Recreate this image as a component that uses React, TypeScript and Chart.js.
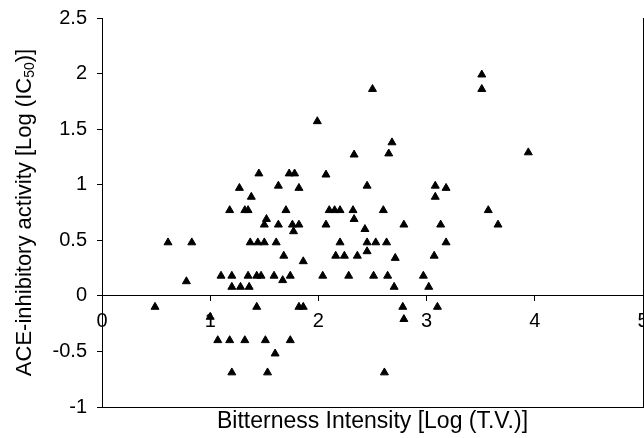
import React, { useEffect, useRef } from "react";
import { Chart, registerables } from "chart.js";

Chart.register(...registerables);

// Bitterness intensity, log(T.V.)
const bitterness = [
  3.51, 3.51, 2.50, 1.99, 2.68, 2.65, 2.33, 3.94,
  1.45, 1.73, 1.78, 2.07, 1.27, 1.63, 1.82, 2.45, 3.08, 3.18, 1.38, 3.08,
  1.18, 1.32, 1.35, 1.70, 2.10, 2.15, 2.20, 2.32, 2.60, 3.57,
  1.52, 2.33, 1.50, 1.63, 1.76, 1.82, 2.07, 2.43, 2.79, 3.13, 3.66, 1.77,
  0.61, 0.83, 1.37, 1.44, 1.50, 1.61, 2.20, 2.45, 2.53, 2.63, 3.18, 2.45,
  1.68, 1.86, 2.16, 2.24, 2.36, 2.71, 3.07,
  0.78, 1.10, 1.20, 1.35, 1.43, 1.47, 1.59, 1.74, 1.67, 2.04, 2.28, 2.51, 2.64, 2.97,
  1.20, 1.28, 1.36, 2.70, 3.02,
  0.49, 1.43, 1.82, 1.86, 2.78, 3.10, 1.00, 2.79,
  1.07, 1.18, 1.32, 1.51, 1.74, 1.60, 1.20, 1.53, 2.61,
];

// ACE-inhibitory activity, log(IC50)
const aceActivity = [
  1.99, 1.86, 1.86, 1.57, 1.38, 1.28, 1.27, 1.29,
  1.10, 1.10, 1.10, 1.09, 0.97, 0.99, 0.97, 0.99, 0.99, 0.97, 0.89, 0.89,
  0.77, 0.77, 0.77, 0.77, 0.77, 0.77, 0.77, 0.77, 0.77, 0.77,
  0.69, 0.69, 0.64, 0.64, 0.64, 0.64, 0.64, 0.60, 0.64, 0.64, 0.64, 0.58,
  0.48, 0.48, 0.48, 0.48, 0.48, 0.48, 0.48, 0.48, 0.48, 0.48, 0.48, 0.40,
  0.36, 0.31, 0.36, 0.36, 0.36, 0.34, 0.36,
  0.13, 0.18, 0.18, 0.18, 0.18, 0.18, 0.18, 0.18, 0.14, 0.18, 0.18, 0.18, 0.18, 0.18,
  0.08, 0.08, 0.08, 0.08, 0.08,
  -0.10, -0.10, -0.10, -0.10, -0.10, -0.10, -0.19, -0.21,
  -0.40, -0.40, -0.40, -0.40, -0.40, -0.52, -0.69, -0.69, -0.69,
];

const xMin = 0;
const xMax = 5;
const xStep = 1;
const yMin = -1;
const yMax = 2.5;
const yStep = 0.5;

const xTitle = "Bitterness Intensity [Log (T.V.)]";
const yTitleParts = ["ACE-inhibitory activity [Log (IC", "50", ")]"];

const FONT = "'Liberation Sans', Arial, Helvetica, sans-serif";
const TICK_SIZE = 20;
const X_TITLE_SIZE = 23;
const Y_TITLE_SIZE = 22;
const SUB_SIZE = 14;

const yTitlePlugin = {
  id: "yTitleWithSub",
  afterDraw(chart: any) {
    const { ctx, chartArea } = chart;
    const main = `${Y_TITLE_SIZE}px ${FONT}`;
    const sub = `${SUB_SIZE}px ${FONT}`;
    ctx.save();
    ctx.font = main;
    const w1 = ctx.measureText(yTitleParts[0]).width;
    const w3 = ctx.measureText(yTitleParts[2]).width;
    ctx.font = sub;
    const w2 = ctx.measureText(yTitleParts[1]).width;
    const total = w1 + w2 + w3;
    const cy = (chartArea.top + chartArea.bottom) / 2;
    ctx.translate(25, cy);
    ctx.rotate(-Math.PI / 2);
    ctx.fillStyle = "#000";
    ctx.textBaseline = "middle";
    ctx.textAlign = "left";
    let x = -total / 2;
    ctx.font = main;
    ctx.fillText(yTitleParts[0], x, 0);
    x += w1;
    ctx.font = sub;
    ctx.fillText(yTitleParts[1], x, 5);
    x += w2;
    ctx.font = main;
    ctx.fillText(yTitleParts[2], x, 0);
    ctx.restore();
  },
};

export default function App() {
  const ref = useRef<HTMLCanvasElement | null>(null);

  useEffect(() => {
    document.body.style.margin = "0";
    const canvas = ref.current;
    if (!canvas) return;
    const points = bitterness.map((b, i) => ({ x: b, y: aceActivity[i] }));
    const tickFont = { family: FONT, size: TICK_SIZE };
    const chart = new Chart(canvas, {
      type: "scatter",
      data: {
        datasets: [
          {
            data: points,
            pointStyle: "triangle",
            pointRadius: 4.6,
            pointBackgroundColor: "#000",
            pointBorderColor: "#000",
            pointBorderWidth: 1,
          },
        ],
      },
      options: {
        animation: false,
        responsive: false,
        devicePixelRatio: 1,
        layout: { autoPadding: false, padding: { top: 18, right: 1, left: 0, bottom: 0 } },
        plugins: {
          legend: { display: false },
          tooltip: { enabled: false },
        },
        scales: {
          x: {
            type: "linear",
            position: { y: 0 },
            min: xMin,
            max: xMax,
            ticks: {
              stepSize: xStep,
              color: "#000",
              font: tickFont,
              padding: 9,
              maxRotation: 0,
              callback: (v: any) => String(Number(v)),
            },
            grid: { display: true, drawOnChartArea: false, drawTicks: true, tickLength: 5, color: "#000" },
            border: { display: true, color: "#000", width: 1 },
            afterFit(s: any) {
              s.paddingLeft = 0;
              s.paddingRight = 0;
            },
          },
          xb: {
            type: "linear",
            position: "bottom",
            min: xMin,
            max: xMax,
            ticks: { display: false },
            grid: { display: false, drawTicks: false },
            border: { display: true, color: "#000", width: 1 },
            title: {
              display: true,
              text: xTitle,
              color: "#000",
              font: { family: FONT, size: X_TITLE_SIZE },
              padding: { top: 0, bottom: 3 },
            },
            afterFit(s: any) {
              s.height = 31;
              s.paddingLeft = 0;
              s.paddingRight = 0;
            },
          },
          y: {
            type: "linear",
            position: "left",
            min: yMin,
            max: yMax,
            ticks: {
              stepSize: yStep,
              color: "#000",
              font: tickFont,
              padding: 10,
              callback: (v: any) => String(Number(v)),
            },
            grid: { display: true, drawOnChartArea: false, drawTicks: true, tickLength: 5, color: "#000" },
            border: { display: true, color: "#000", width: 1 },
            afterFit(s: any) {
              s.width = 102;
              s.paddingTop = 0;
              s.paddingBottom = 0;
            },
          },
          y2: {
            type: "linear",
            position: "right",
            min: yMin,
            max: yMax,
            ticks: { display: false },
            grid: { display: false, drawTicks: false },
            border: { display: true, color: "#000", width: 1 },
            afterFit(s: any) {
              s.width = 0;
            },
          },
        },
      },
      plugins: [yTitlePlugin],
    });
    return () => chart.destroy();
  }, []);

  return (
    <div style={{ width: 644, height: 438, background: "#fff" }}>
      <canvas ref={ref} width={644} height={438} style={{ display: "block" }} />
    </div>
  );
}
